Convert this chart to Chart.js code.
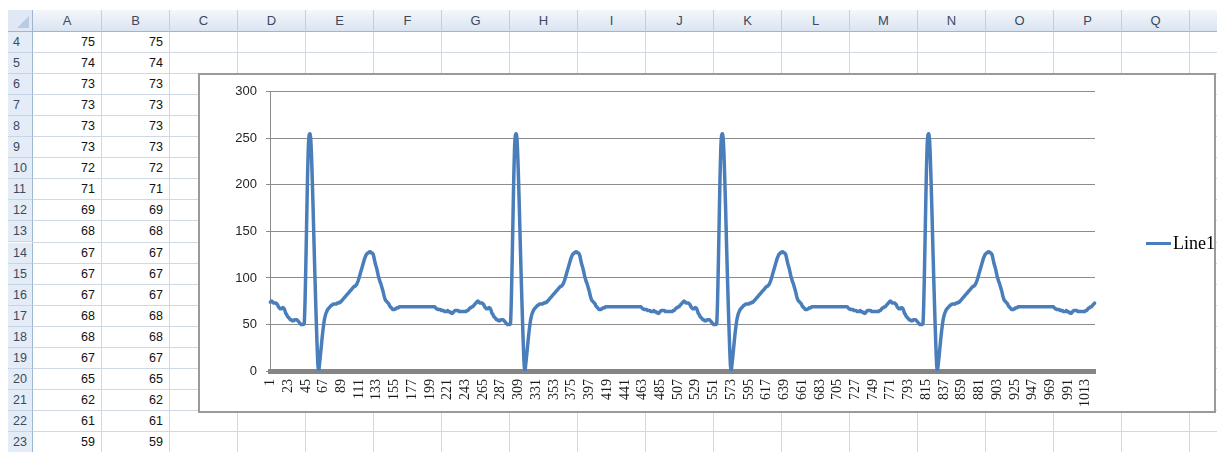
<!DOCTYPE html>
<html>
<head>
<meta charset="utf-8">
<script src="https://cdn.jsdelivr.net/npm/chart.js@4.4.1/dist/chart.umd.min.js"></script>
<style>
  html, body { margin: 0; padding: 0; background: #fff; }
  body { width: 1217px; height: 452px; overflow: hidden; position: relative; font-family: "Liberation Sans", Arial, sans-serif; }
  .hdr { position: absolute; top: 10px; height: 22px; box-sizing: border-box; background: linear-gradient(#f4f7fc, #dae4f1); border-right: 1px solid #c0d0e4; border-bottom: 1px solid #9eb6ce; font-size: 13px; color: #3b4a60; text-align: center; line-height: 21px; }
  .corner { position: absolute; left: 8px; top: 10px; width: 25px; height: 22px; box-sizing: border-box; background: #dfe8f4; border-right: 1px solid #9eb6ce; border-bottom: 1px solid #9eb6ce; }
  .corner:after { content: ""; position: absolute; right: 3px; bottom: 3px; border-left: 12px solid transparent; border-bottom: 12px solid #b8cbe2; }
  .rowh { position: absolute; left: 8px; width: 25px; box-sizing: border-box; background: #e4ecf7; border-right: 1px solid #9eb6ce; border-bottom: 1px solid #c5d5e8; font-size: 12.5px; color: #3b4a60; padding-left: 5px; }
  .vline { position: absolute; width: 1px; background: #d0d7e5; }
  .hline { position: absolute; height: 1px; background: #d0d7e5; }
  .cell { position: absolute; text-align: right; font-size: 12.5px; color: #111; box-sizing: border-box; padding-right: 7px; }
  #chartBox { position: absolute; left: 198px; top: 73px; width: 1018px; height: 340px; box-sizing: border-box; border: 2px solid #9a9a9a; background: #fff; }
  #chartBox canvas { position: absolute; left: 0; top: 0; }
  #legend { position: absolute; left: 946px; top: 158px; white-space: nowrap; }
  #legend .swatch { display: inline-block; width: 25px; height: 3px; background: #4a7ebb; vertical-align: middle; margin-right: 2px; }
  #legend span { font-family: "Liberation Serif", "Times New Roman", serif; font-size: 18px; color: #000; vertical-align: middle; }
</style>
</head>
<body>
<div id="sheet"></div>
<div id="chartBox">
  <canvas id="ecgChart" width="1014" height="336"></canvas>
  <div id="legend"><i class="swatch"></i><span>Line1</span></div>
</div>
<script>
// ===== DATA (one heartbeat = 256 samples, 4 beats shown) =====
const beat1 = [
  74,75,75,74,73,73,73,73,72,71,69,68,67,67,67,68,
  68,67,65,62,61,59,58,57,56,55,55,54,54,54,55,55,
  55,55,54,53,52,51,50,50,50,50,51,75,115,160,205,238,
  253,255,250,232,205,175,142,110,80,52,26,6,0,8,16,25,
  34,42,49,55,59,62,64,66,67,68,69,70,71,71,72,72,
  72,72,72,73,73,73,74,74,75,76,77,78,79,80,81,82,
  83,84,85,86,87,88,89,90,91,91,92,93,95,97,100,103,
  106,109,112,115,118,121,123,125,126,127,127,128,128,127,127,126,
  124,120,116,113,110,106,102,99,96,94,91,88,85,81,78,76,
  75,74,73,72,70,69,68,67,66,66,66,67,67,68,68,68,
  69,69,69,69,69,69,69,69,69,69,69,69,69,69,69,69,
  69,69,69,69,69,69,69,69,69,69,69,69,69,69,69,69,
  69,69,69,69,69,69,69,69,69,69,69,69,69,68,67,67,
  66,66,66,66,65,65,65,65,64,64,64,64,65,64,64,63,
  63,62,62,63,64,65,65,65,65,65,64,64,64,64,64,64,
  64,64,64,64,65,65,66,67,68,68,69,69,70,71,72,73
];
const beat2 = [
  74,75,75,74,73,73,73,73,72,71,69,68,67,67,67,68,
  68,67,65,62,61,59,58,57,56,55,55,54,54,54,55,55,
  55,55,54,53,52,51,50,50,50,50,51,75,115,160,205,238,
  253,255,250,232,205,175,142,110,80,52,26,6,0,8,16,25,
  34,42,49,55,59,62,64,66,67,68,69,70,71,71,72,72,
  72,72,72,73,73,73,74,74,75,76,77,78,79,80,81,82,
  83,84,85,86,87,88,89,90,91,91,92,93,95,97,100,103,
  106,109,112,115,118,121,123,125,126,127,127,128,128,127,127,126,
  124,120,116,113,110,106,102,99,96,94,91,88,85,81,78,76,
  75,74,73,72,70,69,68,67,66,66,66,67,67,68,68,68,
  69,69,69,69,69,69,69,69,69,69,69,69,69,69,69,69,
  69,69,69,69,69,69,69,69,69,69,69,69,69,69,69,69,
  69,69,69,69,69,69,69,69,69,69,69,69,69,68,67,67,
  66,66,66,66,65,65,65,65,64,64,64,64,65,64,64,63,
  63,62,62,63,64,65,65,65,65,65,64,64,64,64,64,64,
  64,64,64,64,65,65,66,67,68,68,69,69,70,71,72,73
];
const beat3 = [
  74,75,75,74,73,73,73,73,72,71,69,68,67,67,67,68,
  68,67,65,62,61,59,58,57,56,55,55,54,54,54,55,55,
  55,55,54,53,52,51,50,50,50,50,51,75,115,160,205,238,
  253,255,250,232,205,175,142,110,80,52,26,6,0,8,16,25,
  34,42,49,55,59,62,64,66,67,68,69,70,71,71,72,72,
  72,72,72,73,73,73,74,74,75,76,77,78,79,80,81,82,
  83,84,85,86,87,88,89,90,91,91,92,93,95,97,100,103,
  106,109,112,115,118,121,123,125,126,127,127,128,128,127,127,126,
  124,120,116,113,110,106,102,99,96,94,91,88,85,81,78,76,
  75,74,73,72,70,69,68,67,66,66,66,67,67,68,68,68,
  69,69,69,69,69,69,69,69,69,69,69,69,69,69,69,69,
  69,69,69,69,69,69,69,69,69,69,69,69,69,69,69,69,
  69,69,69,69,69,69,69,69,69,69,69,69,69,68,67,67,
  66,66,66,66,65,65,65,65,64,64,64,64,65,64,64,63,
  63,62,62,63,64,65,65,65,65,65,64,64,64,64,64,64,
  64,64,64,64,65,65,66,67,68,68,69,69,70,71,72,73
];
const beat4 = [
  74,75,75,74,73,73,73,73,72,71,69,68,67,67,67,68,
  68,67,65,62,61,59,58,57,56,55,55,54,54,54,55,55,
  55,55,54,53,52,51,50,50,50,50,51,75,115,160,205,238,
  253,255,250,232,205,175,142,110,80,52,26,6,0,8,16,25,
  34,42,49,55,59,62,64,66,67,68,69,70,71,71,72,72,
  72,72,72,73,73,73,74,74,75,76,77,78,79,80,81,82,
  83,84,85,86,87,88,89,90,91,91,92,93,95,97,100,103,
  106,109,112,115,118,121,123,125,126,127,127,128,128,127,127,126,
  124,120,116,113,110,106,102,99,96,94,91,88,85,81,78,76,
  75,74,73,72,70,69,68,67,66,66,66,67,67,68,68,68,
  69,69,69,69,69,69,69,69,69,69,69,69,69,69,69,69,
  69,69,69,69,69,69,69,69,69,69,69,69,69,69,69,69,
  69,69,69,69,69,69,69,69,69,69,69,69,69,68,67,67,
  66,66,66,66,65,65,65,65,64,64,64,64,65,64,64,63,
  63,62,62,63,64,65,65,65,65,65,64,64,64,64,64,64,
  64,64,64,64,65,65,66,67,68,68,69,69,70,71,72,73
];
const line1 = [...beat1, ...beat2, ...beat3, ...beat4];
const sampleNo = line1.map((v, i) => String(i + 1));
const tickLabels = ['1','23','45','67','89','111','133','155','177','199','221','243','265','287','309','331',
  '353','375','397','419','441','463','485','507','529','551','573','595','617','639','661','683','705',
  '727','749','771','793','815','837','859','881','903','925','947','969','991','1013'];
const yTicks = [0, 50, 100, 150, 200, 250, 300];

// ===== SPREADSHEET BACKGROUND =====
const colLetters = ['A','B','C','D','E','F','G','H','I','J','K','L','M','N','O','P','Q','R'];
const colEdges = [33,102,170,238,306,374,442,510,578,646,714,782,850,918,986,1054,1122,1190,1258];
const rowNumbers = [4,5,6,7,8,9,10,11,12,13,14,15,16,17,18,19,20,21,22,23];
const ROW_TOP = 32, ROW_H = 21.05;

function buildSheet() {
  const sheet = document.getElementById('sheet');
  let html = '<div class="corner"></div>';
  colLetters.forEach((c, i) => {
    html += `<div class="hdr" style="left:${colEdges[i]}px;width:${colEdges[i + 1] - colEdges[i]}px">${c}</div>`;
  });
  colEdges.forEach(x => {
    html += `<div class="vline" style="left:${x - 1}px;top:32px;height:420px"></div>`;
  });
  rowNumbers.forEach((r, k) => {
    const top = ROW_TOP + k * ROW_H;
    html += `<div class="rowh" style="top:${top}px;height:${ROW_H}px;line-height:${ROW_H}px">${r}</div>`;
    html += `<div class="hline" style="left:33px;top:${top + ROW_H - 1}px;width:1184px"></div>`;
    const v = line1[r - 2];
    html += `<div class="cell" style="left:33px;width:69px;top:${top}px;line-height:${ROW_H}px">${v}</div>`;
    html += `<div class="cell" style="left:102px;width:68px;top:${top}px;line-height:${ROW_H}px">${v}</div>`;
  });
  sheet.innerHTML = html;
}
buildSheet();

// ===== CHART =====
const ctx = document.getElementById('ecgChart');
new Chart(ctx, {
  type: 'line',
  data: {
    labels: sampleNo,
    datasets: [{
      label: 'Line1',
      data: line1,
      borderColor: '#4a7ebb',
      backgroundColor: '#4a7ebb',
      borderWidth: 3.5,
      pointRadius: 0,
      tension: 0.2,
      fill: false,
      borderJoinStyle: 'round',
      borderCapStyle: 'round'
    }]
  },
  options: {
    responsive: false,
    devicePixelRatio: 1,
    animation: false,
    layout: { padding: { top: 13, right: 119, left: 0, bottom: 0 } },
    plugins: { legend: { display: false }, tooltip: { enabled: false } },
    scales: {
      x: {
        type: 'category',
        offset: true,
        grid: { display: false, drawTicks: false },
        border: { display: true, color: '#858585', width: 5 },
        ticks: {
          autoSkip: false,
          minRotation: 90,
          maxRotation: 90,
          padding: 8,
          color: '#1a1a1a',
          font: { family: '"Liberation Serif", "Times New Roman", serif', size: 14 }
        },
        afterBuildTicks: scale => {
          scale.ticks = tickLabels.map(l => ({ value: Number(l) - 1 }));
        },
        afterFit: scale => { scale.height = 40; }
      },
      y: {
        min: 0,
        max: 300,
        grid: { color: '#8c8c8c', lineWidth: 1, tickLength: 4 },
        border: { display: true, color: '#8c8c8c', width: 1 },
        ticks: {
          padding: 9,
          color: '#262626',
          font: { family: '"Liberation Sans", Arial, sans-serif', size: 13 }
        },
        afterBuildTicks: scale => {
          scale.ticks = yTicks.map(v => ({ value: v }));
        },
        afterFit: scale => { scale.width = 70; }
      }
    }
  }
});
</script>
</body>
</html>
